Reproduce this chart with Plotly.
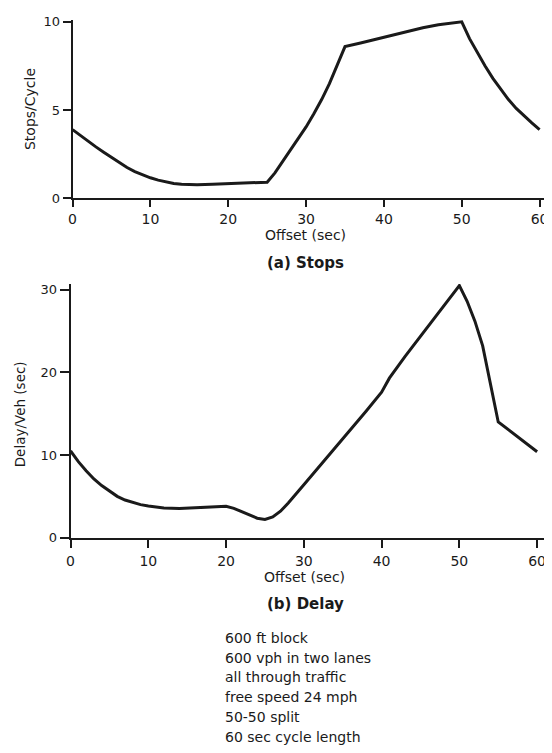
import plotly.graph_objects as go

# ---- data ----
stops_x = [0, 1, 2, 3, 4, 5, 6, 7, 8, 9, 10, 11, 12, 13, 14, 16, 18, 20, 22, 25,
           26, 27, 28, 29, 30, 31, 32, 33, 34, 35, 37, 40, 43, 45, 47, 50,
           51, 52, 53, 54, 55, 56, 57, 58, 59, 60]
stops_y = [3.9, 3.56, 3.23, 2.92, 2.62, 2.32, 2.02, 1.75, 1.52, 1.33, 1.17, 1.04, 0.93, 0.85, 0.8, 0.78, 0.81, 0.84, 0.87, 0.92,
           1.45, 2.1, 2.7, 3.35, 4.05, 4.8, 5.6, 6.5, 7.5, 8.6, 8.8, 9.13, 9.47, 9.67, 9.84, 10.0,
           9.05, 8.25, 7.5, 6.8, 6.2, 5.6, 5.1, 4.68, 4.28, 3.9]

delay_x = [0, 1, 2, 3, 4, 5, 6, 7, 8, 9, 10, 12, 14, 16, 18, 20, 21, 22, 23, 24, 25,
           26, 27, 28, 30, 32, 34, 36, 38, 40, 41, 43, 45, 47, 50,
           51, 52, 53, 54, 55, 60]
delay_y = [10.5, 9.2, 8.1, 7.1, 6.3, 5.6, 5.0, 4.55, 4.25, 4.0, 3.82, 3.6, 3.52, 3.62, 3.78, 3.8, 3.55, 3.15, 2.72, 2.35, 2.2,
           2.5, 3.2, 4.2, 6.4, 8.6, 10.8, 13.0, 15.3, 17.6, 19.3, 21.9, 24.4, 26.8, 30.5,
           28.6, 26.2, 23.2, 18.6, 14.0, 10.4]

x_ticks = [0, 10, 20, 30, 40, 50, 60]
stops_ticks = [0, 5, 10]
delay_ticks = [0, 10, 20, 30]

notes = ["600 ft block", "600 vph in two lanes", "all through traffic",
         "free speed 24 mph", "50-50 split", "60 sec cycle length"]

# ---- layout geometry (page pixels; page body has an 8px margin) ----
PAGE_W, PAGE_H = 552, 753
OFF = 8
W, H = PAGE_W - OFF, PAGE_H - OFF
INK = "#1a1a1a"
FONT = "DejaVu Sans"


def px(p):
    return (p - OFF) / W


def py(p):
    return 1 - (p - OFF) / H


# top panel
t_x0, t_x60 = 69, 539.5
t_y0, t_y10 = 196, 16
t_xmax = (PAGE_W - t_x0) / ((t_x60 - t_x0) / 60)
t_ytop = 10.1
t_ppu = (t_y0 - t_y10) / 10
t_ypix_top = t_y0 - t_ytop * t_ppu
# bottom panel
b_x0, b_x60 = 67, 537
b_y0, b_y30 = 541.7, 289
b_xmax = (PAGE_W - b_x0) / ((b_x60 - b_x0) / 60)
b_ytop = 30.7
b_ppu = (b_y0 - b_y30) / 30
b_ypix_top = b_y0 - b_ytop * b_ppu

fig = go.Figure()
fig.add_trace(go.Scatter(x=stops_x, y=stops_y, xaxis="x", yaxis="y", mode="lines",
                         line=dict(color=INK, width=3), showlegend=False, hoverinfo="skip"))
fig.add_trace(go.Scatter(x=delay_x, y=delay_y, xaxis="x2", yaxis="y2", mode="lines",
                         line=dict(color=INK, width=3), showlegend=False, hoverinfo="skip"))

axis_common = dict(showgrid=False, zeroline=False, showline=True, linecolor=INK, linewidth=2,
                   ticks="outside", tickcolor=INK, tickwidth=2, fixedrange=True)

fig.update_layout(
    width=W, height=H,
    margin=dict(l=0, r=0, t=0, b=0),
    paper_bgcolor="white", plot_bgcolor="rgba(0,0,0,0)",
    font=dict(family=FONT, color=INK, size=14),
    xaxis=dict(domain=[px(t_x0), 1], range=[0, t_xmax], anchor="y",
               tickvals=x_ticks, ticklen=7, tickfont=dict(size=14), **axis_common),
    yaxis=dict(domain=[py(t_y0), py(t_ypix_top)], range=[0, t_ytop], anchor="x",
               tickvals=stops_ticks, ticklen=8, tickfont=dict(size=13), **axis_common),
    xaxis2=dict(domain=[px(b_x0), 1], range=[0, b_xmax], anchor="y2",
                tickvals=x_ticks, ticklen=8, ticklabelstandoff=2, tickfont=dict(size=14), **axis_common),
    yaxis2=dict(domain=[py(b_y0), py(b_ypix_top)], range=[0, b_ytop], anchor="x2",
                tickvals=delay_ticks, ticklen=9, tickfont=dict(size=13), **axis_common),
)

ann = []


def add(text, x, y, size=14, bold=False, angle=0, xanchor="center"):
    ann.append(dict(text=f"<b>{text}</b>" if bold else text, x=px(x), y=py(y), xref="paper", yref="paper",
                    showarrow=False, textangle=angle, xanchor=xanchor, yanchor="middle",
                    font=dict(family=FONT, size=size, color=INK)))


add("Offset (sec)", 304, 233, size=14)
add("(a) Stops", 304, 262, size=15, bold=True)
add("Stops/Cycle", 26, 105, size=14, angle=-90)
add("Offset (sec)", 303, 582, size=14)
add("(b) Delay", 304, 609, size=15, bold=True)
add("Delay/Veh (sec)", 16, 416, size=13.5, angle=-90)
for i, line in enumerate(notes):
    add(line, 221, 644 + 20.1 * i, size=14, xanchor="left")

fig.update_layout(annotations=ann)
fig.write_html("out.html")
